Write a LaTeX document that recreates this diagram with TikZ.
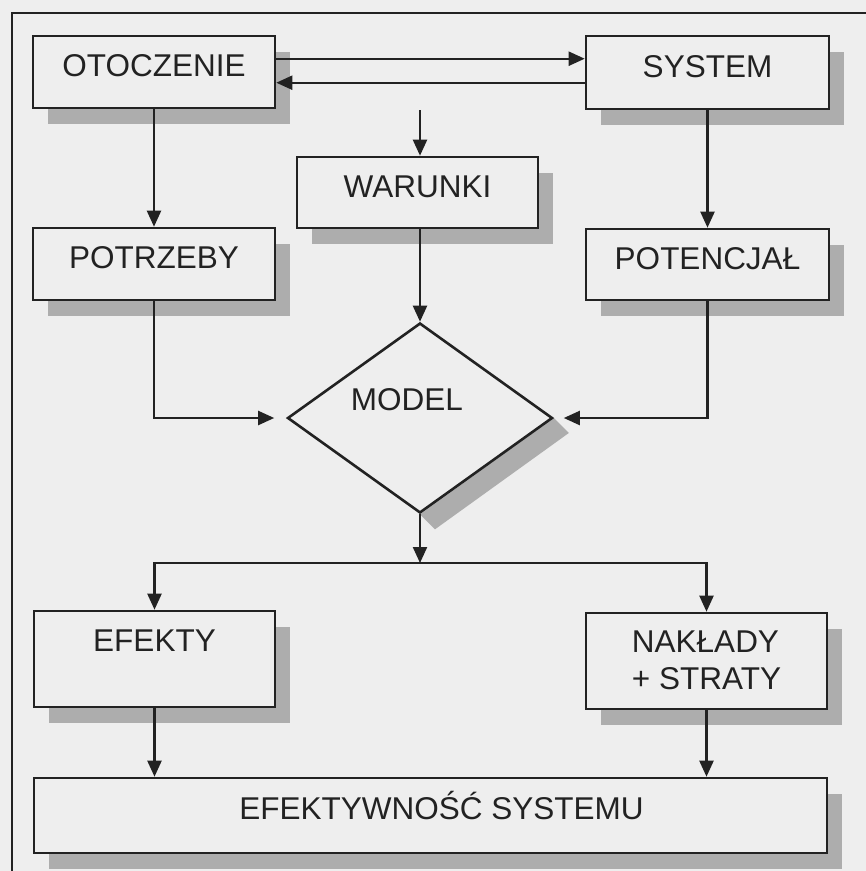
\documentclass[tikz,border=0pt]{standalone}
\usepackage{fontspec}
\setmainfont{Liberation Sans}
\usetikzlibrary{arrows.meta,shadows,shapes.geometric,calc,backgrounds}
\definecolor{paper}{HTML}{EEEEEE}
\definecolor{ink}{HTML}{222222}
\definecolor{shadowgrey}{HTML}{ADADAD}

\begin{document}
\begin{tikzpicture}[x=1pt,y=-1pt,
  boxbase/.style={draw=ink, line width=2.6pt, fill=paper, text=ink, inner sep=0pt,
    font=\fontsize{31.5}{37}\selectfont,
    drop shadow={shadow xshift=15pt, shadow yshift=-16pt, fill=shadowgrey, opacity=1}},
  stepbox/.style={boxbase, text height=22.6pt, text depth=13pt},
  arr/.style={draw=ink, line width=2.2pt, -{Triangle[length=16pt,width=14pt]}},
  frame/.style={draw=ink, line width=2.4pt}]

\useasboundingbox (0,0) rectangle (866,871);

% page frame
\draw[frame] (12,871) -- (12,13) -- (866,13);

% boxes
\node[stepbox, minimum width=242pt, minimum height=72pt] (oto)   at (154,72)     {OTOCZENIE};
\node[stepbox, minimum width=243pt, minimum height=73pt] (sys)   at (707.5,72.5) {SYSTEM};
\node[stepbox, minimum width=241pt, minimum height=71pt] (war)   at (417.5,192.5) {WARUNKI};
\node[stepbox, minimum width=242pt, minimum height=72pt] (potrz) at (154,264)    {POTRZEBY};
\node[stepbox, minimum width=243pt, minimum height=71pt] (pot)   at (707.5,264.5) {POTENCJAŁ};
\node[stepbox, minimum width=241pt, minimum height=96pt, text depth=38pt] (efe) at (154.5,659) {EFEKTY};
\node[boxbase, minimum width=241pt, minimum height=96pt, align=left,
      text height=59.6pt, text depth=3pt] (nak) at (706.5,661) {NAKŁADY\\+ STRATY};
\node[stepbox, minimum width=793pt, minimum height=75pt, text depth=15pt] (eff) at (430.5,815.5) {\hspace*{22pt}EFEKTYWNOŚĆ SYSTEMU};

% decision diamond with its shadow along the lower right edge
\node[diamond, draw=ink, line width=2.6pt, fill=paper, inner sep=0pt,
      minimum width=265pt, minimum height=190pt] (model) at (420,418) {};
\begin{pgfonlayer}{background}
  \fill[paper] (0,0) rectangle (866,871);
  \fill[shadowgrey] (model.east) -- ($(model.east)+(15,15)$) -- ($(model.south)+(15,15)$) -- (model.south) -- cycle;
\end{pgfonlayer}
\node[text=ink, font=\fontsize{31.5}{37}\selectfont, inner sep=0pt] (modeltext) at (407,400) {MODEL};

% connectors
\draw[arr] ([yshift=-24pt]oto.north east) -- ([yshift=-24pt]sys.north west);
\draw[arr] ([yshift=-48pt]sys.north west) -- ([yshift=-48pt]oto.north east);
\coordinate (wtop) at (420,110);
\draw[arr] (wtop) -- (wtop |- war.north);
\draw[arr] (oto.south) -- (potrz.north);
\draw[arr] (sys.south) -- (pot.north);
\draw[arr] (model.north |- war.south) -- (model.north);
\draw[arr, shorten >=12pt] (potrz.south) |- (model.west);
\draw[arr, shorten >=10pt] (pot.south) |- (model.east);
\coordinate (split) at (420,563);
\draw[arr] (model.south) -- (split);
\draw[arr] (split) -| (efe.north);
\draw[arr] (split) -| (nak.north);
\draw[arr] (efe.south) -- (efe.south |- eff.north);
\draw[arr] (nak.south) -- (nak.south |- eff.north);
\end{tikzpicture}
\end{document}
